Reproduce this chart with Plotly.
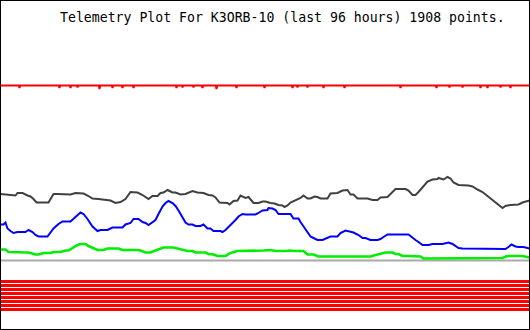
import plotly.graph_objects as go

TITLE = "Telemetry Plot For K3ORB-10 (last 96 hours) 1908 points."

# column positions (x) and plotted levels (screen rows, top = 0)
black_x = [0,5,15,17,22,27,30,33,36,48,50,53,57,70,75,83,88,92,98,105,110,115,120,125,130,137,142,148,152,157,160,163,167,172,175,180,185,192,197,203,208,212,215,219,227,229,233,237,240,245,248,253,258,262,265,270,274,278,282,284,287,290,295,300,303,307,310,314,317,320,327,330,337,342,347,350,353,357,367,372,377,380,387,390,393,395,405,408,412,415,418,422,427,432,437,438,443,447,450,453,458,468,472,477,482,487,492,497,502,505,510,518,522,529]
black_y = [194,194.5,195.5,193,193,195.5,196.5,199,202.5,202.5,199,194,194,194.5,193,193.5,196,198.5,199,200,200.5,203,202,199,192,192.5,195,199,196,196,193,192.5,190,192.5,192.5,194.5,194,191,192.5,193,195,195.5,197.5,202.5,203,204.5,201,200.5,195.5,198,197,203,203,201.5,201.5,203,203.5,205,205.5,207,205.5,202.5,200.5,198,195.5,198.5,198.5,196.5,197,198.5,198.5,193.5,193,190.5,190,194.5,194.5,198.5,198.5,200,200,197.5,197,194,192,189,189,190.5,195,195,192,187.5,181.5,179.5,179,178,179.5,177,178.5,182.5,185,185.5,186.5,189.5,192,196,200,204,208,206,205,204.5,202.5,200.5]

blue_x = [0,3,5,7,10,13,17,25,28,32,35,38,47,50,53,58,62,70,73,77,80,83,87,92,97,100,107,112,122,125,130,133,138,142,145,148,152,155,158,162,165,168,172,175,178,182,185,188,192,195,200,203,207,210,213,220,222,225,228,232,235,238,242,245,255,258,262,267,268,272,275,278,290,293,298,300,303,307,310,313,317,322,325,330,337,340,345,348,353,358,362,365,370,377,380,383,387,408,412,415,418,422,428,432,442,445,448,452,455,458,462,477,482,505,508,511,515,518,523,529]
blue_y = [224.5,224.5,222.5,228.5,231,233,232,232,230,232,235,236.5,236.5,233,228.5,224,221.5,221.5,218.5,214.5,212.5,214,219,226.5,231,230,230,227.5,227.5,224.5,223,219,219,222,223,225,222,220,214,206.5,203,201,203,206,210.5,217,222.5,224.5,224.5,226,226,224.5,228.5,228.5,231,231,232,230,227,224,220,216.5,214,214.5,214.5,213,210.5,210,208,208.5,210,214,214,218.5,218.5,222,226,232.5,236.5,238,240,240,238.5,236.5,236.5,233,230.5,231,232.5,235,238,238,240,240,239,237,234.5,234.5,238,240,242,245,245,244,244,243,242.5,244,246,248,248.5,248.5,249,249,247,244.5,246.5,247,247,248.5]

green_x = [0,5,8,12,17,27,30,35,38,43,50,53,60,65,68,72,77,80,85,88,93,97,103,107,118,122,137,140,145,150,155,160,163,173,177,182,187,192,195,205,208,213,217,225,230,237,243,247,263,270,275,285,288,290,293,303,307,313,318,325,328,347,352,370,375,380,385,392,395,398,402,408,413,420,423,445,447,450,462,465,473,477,498,502,507,522,529]
green_y = [249.5,249.5,252,252,252.5,252.5,253,254.5,254.5,253,253,252,252,250.5,250.5,248,245,244,244,246,248.5,250,250,248.5,248.5,250,250,250.5,252.5,252.5,250.5,248.5,247.5,247.5,248.5,250,251,251,252.5,252.5,254,254.5,256,256,253,251,251,250.5,250.5,250,251,251,250.5,250.5,251,251,254.5,254.5,256.5,256.5,256,256,256.5,256.5,255,254,252.5,252.5,254,254,256,256,256.5,256.5,258.5,258.5,258,258.5,258.5,258,258,258.5,258.5,258,256,256,257.5]

red_level = 85.5
red_dip_x = [19,59,70,77,99,112,122,133,176,182,193,202,216,236,264,292,297,307,323,344,400,436,449,462,480,487,500,510]
red_dip_y = [88,88,88,87.5,89,88,88,88,88,87.5,87.5,88,89,88,88,88,87.5,87.5,88,88,88,88,87.5,87.5,88,88,87.5,88]

gray_level = 260.5
stripe_levels = [281.5,285.5,289.5,293.5,297.5,301.5,305.5,309.5]
x_start, x_end = 0, 529

fig = go.Figure()

# red top line with dips
rx, ry = [x_start], [red_level]
for c, d in zip(red_dip_x, red_dip_y):
    rx += [c - 0.7, c, c + 0.7]
    ry += [red_level, d, red_level]
rx.append(x_end); ry.append(red_level)
fig.add_trace(go.Scatter(x=rx, y=ry, mode="lines", line=dict(color="#ff0000", width=2)))

# red stripes
for lv in stripe_levels:
    fig.add_trace(go.Scatter(x=[x_start, x_end], y=[lv, lv], mode="lines",
                             line=dict(color="#ff0000", width=3)))

# gray baseline
fig.add_trace(go.Scatter(x=[x_start, x_end], y=[gray_level, gray_level], mode="lines",
                         line=dict(color="#aaaaaa", width=2)))

fig.add_trace(go.Scatter(x=green_x, y=green_y, mode="lines", line=dict(color="#00ee00", width=2.6)))
fig.add_trace(go.Scatter(x=blue_x, y=blue_y, mode="lines", line=dict(color="#0000ff", width=2)))
fig.add_trace(go.Scatter(x=black_x, y=black_y, mode="lines", line=dict(color="#404040", width=2)))

fig.update_traces(hoverinfo="skip", showlegend=False)

fig.update_layout(
    width=530, height=330,
    margin=dict(l=0, r=0, t=0, b=0),
    paper_bgcolor="white", plot_bgcolor="white",
    xaxis=dict(visible=False, range=[-0.5, 529.5], fixedrange=True),
    yaxis=dict(visible=False, range=[330, 0], fixedrange=True),
    shapes=[dict(type="rect", xref="paper", yref="paper", x0=0, x1=1, y0=0, y1=1,
                 line=dict(color="black", width=2))],
    annotations=[dict(text=TITLE, xref="paper", yref="paper", x=58/530, y=1 - 17/330,
                      xanchor="left", yanchor="middle", showarrow=False,
                      font=dict(family="DejaVu Sans Mono", size=13.2, color="black"))],
)

fig.write_html("out.html", config={"displayModeBar": False})
